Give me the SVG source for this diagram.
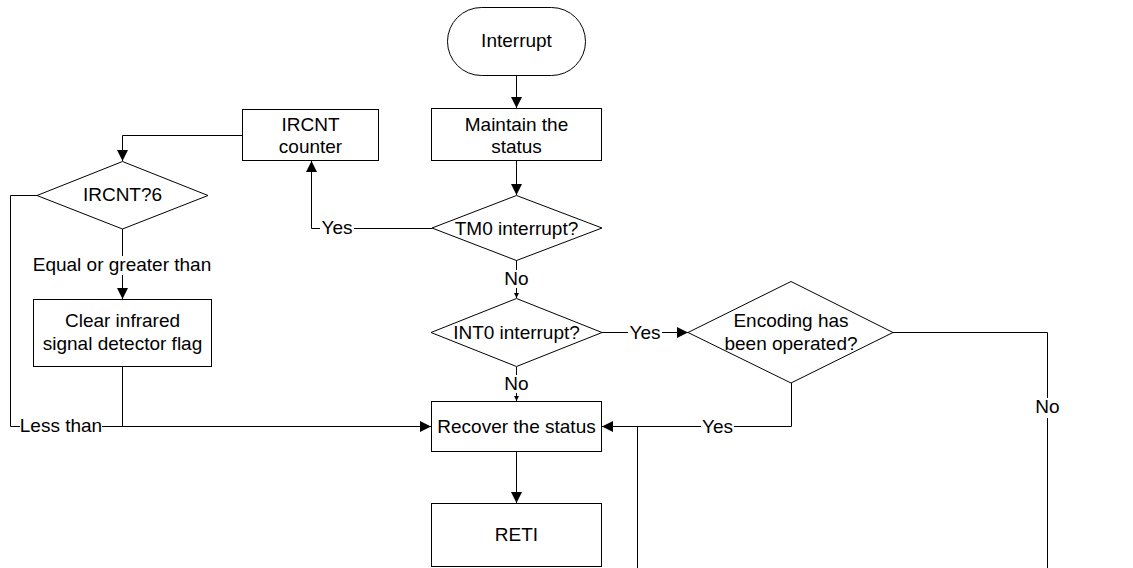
<svg xmlns="http://www.w3.org/2000/svg" width="1133" height="568" viewBox="0 0 1133 568">
  <defs>
    <marker id="arrow" markerUnits="userSpaceOnUse" markerWidth="12" markerHeight="12" refX="11" refY="6" orient="auto">
      <path d="M0,0.5 L11,6 L0,11.5 z" fill="#000"/>
    </marker>
    <marker id="tick" markerUnits="userSpaceOnUse" markerWidth="6" markerHeight="6" refX="5" refY="3" orient="auto">
      <path d="M0,0.5 L5,3 L0,5.5 z" fill="#000"/>
    </marker>
    <style>
      .shape { fill: #fff; stroke: #000; stroke-width: 1; }
      .line { fill: none; stroke: #000; stroke-width: 1; }
      .arr { marker-end: url(#arrow); }
      .sm { marker-end: url(#tick); }
      text { font-family: "Liberation Sans", Arial, sans-serif; font-size: 19px; fill: #000; text-anchor: middle; }
    </style>
  </defs>
  <rect width="1133" height="568" fill="#fff"/>

  <g id="connectors">
    <!-- main spine -->
    <path class="line arr" d="M516.5,75 V108"/>
    <path class="line arr" d="M516.5,161 V195"/>
    <path class="line" d="M516.5,260 V270"/>
    <path class="line sm" d="M516.5,288 V298"/>
    <path class="line" d="M516.5,367 V375"/>
    <path class="line sm" d="M516.5,393 V401"/>
    <path class="line arr" d="M516.5,452 V503"/>
    <!-- TM0 yes branch to IRCNT counter -->
    <path class="line" d="M432,228.5 H354"/>
    <path class="line arr" d="M320,228.5 H311.5 V161"/>
    <!-- IRCNT counter to IRCNT?6 -->
    <path class="line arr" d="M242,135.5 H122.5 V161"/>
    <!-- IRCNT?6 equal or greater -->
    <path class="line" d="M122.5,229 V256"/>
    <path class="line arr" d="M122.5,275 V299"/>
    <!-- IRCNT?6 less than -->
    <path class="line" d="M37,195.5 H10.5 V426.5 H20"/>
    <path class="line arr" d="M102,426.5 H431"/>
    <path class="line" d="M122.5,367 V426.5"/>
    <!-- INT0 yes -->
    <path class="line" d="M602,332.5 H628"/>
    <path class="line arr" d="M662,332.5 H688"/>
    <!-- Encoding yes -->
    <path class="line" d="M791.5,383 V426.5 H734"/>
    <path class="line arr" d="M701,426.5 H602"/>
    <path class="line" d="M637.5,426.5 V568"/>
    <!-- Encoding no -->
    <path class="line" d="M893,332.5 H1047.5 V398"/>
    <path class="line" d="M1047.5,418 V568"/>
  </g>

  <g id="interrupt">
    <rect class="shape" x="447.5" y="7.5" width="138" height="68" rx="34" ry="34"/>
    <text x="516.5" y="47">Interrupt</text>
  </g>
  <g id="maintain">
    <rect class="shape" x="431.5" y="108.5" width="170" height="52"/>
    <text x="516.5" y="130.5">Maintain the</text>
    <text x="516.5" y="153">status</text>
  </g>
  <g id="tm0">
    <polygon class="shape" points="516.5,195.5 602,228 516.5,260.5 432,228"/>
    <text x="516.5" y="234.5">TM0 interrupt?</text>
  </g>
  <g id="int0">
    <polygon class="shape" points="516.5,298.5 602,332.5 516.5,366.5 431,332.5"/>
    <text x="516.5" y="339">INT0 interrupt?</text>
  </g>
  <g id="recover">
    <rect class="shape" x="431.5" y="401.5" width="170" height="50"/>
    <text x="516.5" y="433">Recover the status</text>
  </g>
  <g id="reti">
    <rect class="shape" x="431.5" y="503.5" width="170" height="63"/>
    <text x="516.5" y="540.5">RETI</text>
  </g>
  <g id="ircnt-counter">
    <rect class="shape" x="242.5" y="109.5" width="136" height="51"/>
    <text x="310.5" y="130.5">IRCNT</text>
    <text x="310.5" y="153">counter</text>
  </g>
  <g id="ircnt-check">
    <polygon class="shape" points="122.5,161.5 208,195.5 122.5,229 37,195.5"/>
    <text x="122.5" y="201">IRCNT?6</text>
  </g>
  <g id="clear-flag">
    <rect class="shape" x="33.5" y="299.5" width="178" height="67"/>
    <text x="122.5" y="326.5">Clear infrared</text>
    <text x="122.5" y="349.5">signal detector flag</text>
  </g>
  <g id="encoding">
    <polygon class="shape" points="791,281.5 893,332.5 791,383 688,332.5"/>
    <text x="791" y="327">Encoding has</text>
    <text x="791" y="350">been operated?</text>
  </g>

  <g id="labels">
    <text x="337" y="233.5">Yes</text>
    <text x="516.5" y="285">No</text>
    <text x="516.5" y="390">No</text>
    <text x="645" y="338.5">Yes</text>
    <text x="717.5" y="432.5">Yes</text>
    <text x="1047.5" y="413">No</text>
    <text x="122" y="271">Equal or greater than</text>
    <text x="61" y="432">Less than</text>
  </g>
</svg>
